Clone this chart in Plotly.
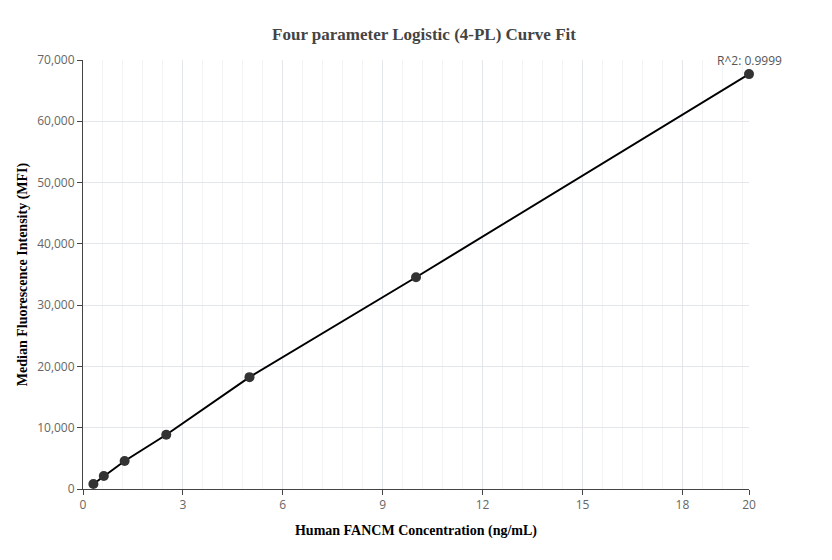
import plotly.graph_objects as go

conc = [0.3125, 0.625, 1.25, 2.5, 5, 10, 20]
mfi = [820, 2120, 4570, 8850, 18250, 34550, 67700]
x_ticks = [0, 3, 6, 9, 12, 15, 18, 20]
r2_label = "R^2: 0.9999"

fig = go.Figure()
fig.add_trace(go.Scatter(x=conc, y=mfi, mode="lines+markers", cliponaxis=False,
                         line=dict(color="black", width=2),
                         marker=dict(color="#333333", size=10), showlegend=False))
fig.add_annotation(x=conc[-1], y=mfi[-1], text=r2_label, showarrow=False,
                   yshift=14, font=dict(family="Open Sans", size=12, color="#555"))
fig.update_layout(
    width=832, height=560, plot_bgcolor="white", paper_bgcolor="white",
    margin=dict(l=75, r=91, t=52, b=79),
    title=dict(text="<b>Four parameter Logistic (4-PL) Curve Fit</b>", x=0.5, y=0.965,
               xanchor="center", font=dict(family="Times New Roman, Liberation Serif", size=17, color="#444")),
    xaxis=dict(range=[0, 20], tickvals=x_ticks, showgrid=True, gridcolor="#e3e6ea",
               minor=dict(dtick=0.6, tick0=0, showgrid=True, gridcolor="#f2f3f5"),
               showline=True, linecolor="#444", ticks="outside", ticklen=5, tickcolor="#444",
               tickfont=dict(family="Open Sans", size=12, color="#666"),
               title=dict(text="<b>Human FANCM Concentration (ng/mL)</b>", standoff=12,
                          font=dict(family="Times New Roman, Liberation Serif", size=14, color="black"))),
    yaxis=dict(range=[0, 70000], dtick=10000, tickformat=",", showgrid=True, gridcolor="#e3e6ea",
               showline=True, linecolor="#444", ticks="outside", ticklen=5, tickcolor="#444",
               tickfont=dict(family="Open Sans", size=12, color="#666"),
               title=dict(text="<b>Median Fluorescence Intensity (MFI)</b>", standoff=6,
                          font=dict(family="Times New Roman, Liberation Serif", size=14, color="black"))),
)
fig.write_html("out.html")
